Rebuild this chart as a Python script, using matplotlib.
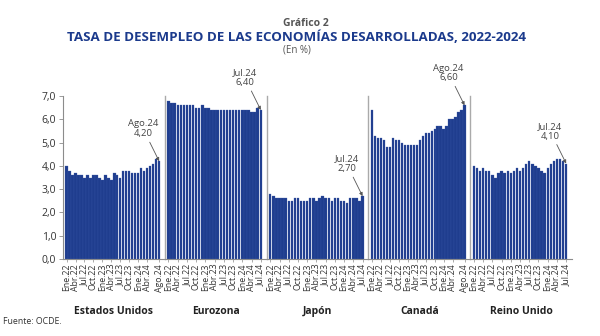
import numpy as np
import matplotlib
matplotlib.use("Agg")
import matplotlib.pyplot as plt

plt.rcParams['font.family'] = ['Open Sans', 'DejaVu Sans']

# tasas mensuales de desempleo (%), ene.2022 en adelante
paises = ["Estados Unidos", "Eurozona", "Japón", "Canadá", "Reino Unido"]
eeuu = [4.0, 3.8, 3.6, 3.7, 3.6, 3.6, 3.5, 3.6, 3.5, 3.6, 3.6, 3.5,
        3.4, 3.6, 3.5, 3.4, 3.7, 3.6, 3.5, 3.8, 3.8, 3.8, 3.7, 3.7,
        3.7, 3.9, 3.8, 3.9, 4.0, 4.1, 4.3, 4.2]
eurozona = [6.8, 6.7, 6.7, 6.6, 6.6, 6.6, 6.6, 6.6, 6.6, 6.5, 6.5, 6.6,
            6.5, 6.5, 6.4, 6.4, 6.4, 6.4, 6.4, 6.4, 6.4, 6.4, 6.4, 6.4,
            6.4, 6.4, 6.4, 6.3, 6.3, 6.5, 6.4]
japon = [2.8, 2.7, 2.6, 2.6, 2.6, 2.6, 2.5, 2.5, 2.6, 2.6, 2.5, 2.5,
         2.5, 2.6, 2.6, 2.5, 2.6, 2.7, 2.6, 2.6, 2.5, 2.6, 2.6, 2.5,
         2.5, 2.4, 2.6, 2.6, 2.6, 2.5, 2.7]
canada = [6.4, 5.3, 5.2, 5.2, 5.1, 4.8, 4.8, 5.2, 5.1, 5.1, 5.0, 4.9,
          4.9, 4.9, 4.9, 4.9, 5.1, 5.3, 5.4, 5.4, 5.5, 5.6, 5.7, 5.7,
          5.6, 5.7, 6.0, 6.0, 6.1, 6.3, 6.4, 6.6]
reino_unido = [4.0, 3.9, 3.8, 3.9, 3.8, 3.8, 3.6, 3.5, 3.7, 3.8, 3.7, 3.8,
               3.7, 3.8, 3.9, 3.8, 3.9, 4.1, 4.2, 4.1, 4.0, 3.9, 3.8, 3.7,
               3.9, 4.1, 4.2, 4.3, 4.3, 4.2, 4.1]
series = [eeuu, eurozona, japon, canada, reino_unido]

meses = ["Ene", "Feb", "Mar", "Abr", "May", "Jun",
         "Jul", "Ago", "Sep", "Oct", "Nov", "Dic"]
fechas = [f"{m}.{a}" for a in (22, 23, 24) for m in meses]

AZUL = "#1f3d8e"
GRIS = "#8c8c8c"

fig = plt.figure(figsize=(6, 3.36), dpi=100)
axes = fig.subplots(1, 5, sharey=True)
fig.subplots_adjust(left=63/600, right=572/600, bottom=1-259/336, top=1-96/336, wspace=0)

for k, (ax, nombre, y) in enumerate(zip(axes, paises, series)):
    n = len(y)
    x = np.arange(n)
    ax.bar(x, y, width=0.78, color=AZUL, edgecolor="#3a58a8", linewidth=0.2)
    ax.set_xlim(-1.2, n - 1 + 1.9)
    ax.set_ylim(0, 7)

    # etiquetas cada trimestre + último mes
    pos = list(range(0, n, 3))
    if pos[-1] != n - 1:
        if n - 1 - pos[-1] < 2:
            pos = pos[:-1]
        pos.append(n - 1)
    ax.set_xticks(pos)
    ax.set_xticklabels([fechas[i] for i in pos], rotation=90, fontsize=6.3,
                       color="#333333")
    ax.tick_params(axis="x", length=2, width=0.5, color=GRIS, pad=1.5)

    for s in ("top", "right"):
        ax.spines[s].set_visible(False)
    ax.spines["bottom"].set_color(GRIS)
    ax.spines["bottom"].set_linewidth(0.8)
    ax.spines["left"].set_color(GRIS if k == 0 else "#aaaaaa")
    ax.spines["left"].set_linewidth(0.8 if k == 0 else 1.0)
    if k > 0:
        ax.tick_params(axis="y", left=False)

    ax.text(0.5, -0.29, nombre, transform=ax.transAxes, ha="center", va="top",
            fontsize=7.5, fontweight="bold", color="#222222")

    # valor del último mes
    txt = f"{fechas[n - 1]}\n" + f"{y[-1]:.2f}".replace(".", ",")
    ax.annotate(txt, xy=(n - 1, y[-1]), xytext=(-16, 23), textcoords="offset pixels",
                ha="center", va="bottom", fontsize=6.8, color="#444444",
                linespacing=1.1,
                arrowprops=dict(arrowstyle="-|>", color="#555555", lw=0.6,
                                mutation_scale=5, shrinkA=1, shrinkB=0))

ax0 = axes[0]
ax0.set_yticks(np.arange(0, 8, 1))
ax0.set_yticklabels([f"{v:.1f}".replace(".", ",") for v in range(8)],
                    fontsize=7.5, color="#333333")
ax0.tick_params(axis="y", length=3, width=0.6, color=GRIS, pad=2)

fig.text(0.51, 1 - 23/336, "Gráfico 2", ha="center", va="center",
         fontsize=7.5, color="#555555", fontweight="bold")
fig.text(0.495, 1 - 37/336, "TASA DE DESEMPLEO DE LAS ECONOMÍAS DESARROLLADAS, 2022-2024",
         ha="center", va="center", fontsize=9.6, color="#1b3a8c", fontweight="bold")
fig.text(0.495, 1 - 50/336, "(En %)", ha="center", va="center",
         fontsize=7, color="#555555")
fig.text(0.005, 1 - 322/336, "Fuente: OCDE.", ha="left", va="center",
         fontsize=6.3, color="#333333")

fig.savefig("out.png", dpi=100)
